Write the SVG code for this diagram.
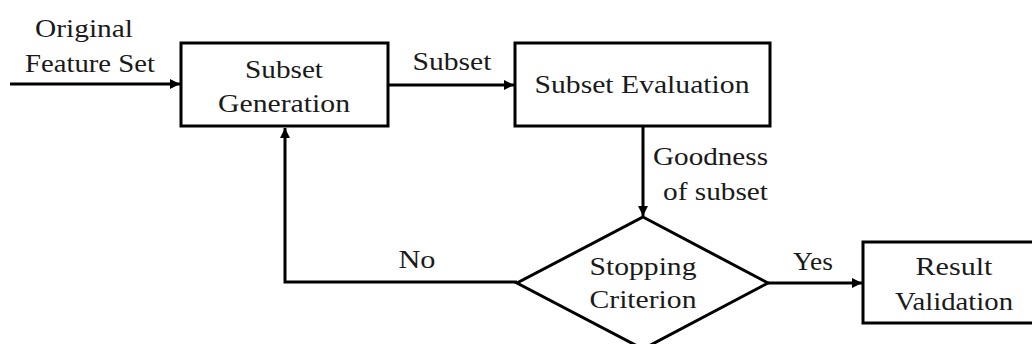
<svg xmlns="http://www.w3.org/2000/svg" width="1032" height="344" viewBox="0 0 1032 344">
  <style>
    .box { fill: #ffffff; stroke: #000000; stroke-width: 3; }
    .line { fill: none; stroke: #000000; stroke-width: 3; }
    .lbl { font-family: 'Liberation Serif', 'DejaVu Serif', serif; font-size: 25px; fill: #1a1a1a; text-anchor: middle; }
    .end { text-anchor: end; }
  </style>
  <defs>
    <marker id="arrow" viewBox="0 0 10 10" refX="10" refY="5" markerWidth="10" markerHeight="10" markerUnits="userSpaceOnUse" orient="auto">
      <path d="M0,0 L10,5 L0,10 Z" fill="#000000"/>
    </marker>
  </defs>

  <rect width="1032" height="344" fill="#ffffff"/>

  <!-- flow lines and their labels -->
  <g id="connectors">
    <line class="line" x1="10" y1="84" x2="180" y2="84" marker-end="url(#arrow)"/>
    <line class="line" x1="388" y1="85" x2="514" y2="85" marker-end="url(#arrow)"/>
    <line class="line" x1="643" y1="126" x2="643" y2="216" marker-end="url(#arrow)"/>
    <line class="line" x1="768" y1="283" x2="862" y2="283" marker-end="url(#arrow)"/>
    <polyline class="line" points="517,282 285,282 285,128" marker-end="url(#arrow)"/>
    <text class="lbl" x="84" y="37" textLength="98" lengthAdjust="spacingAndGlyphs">Original</text>
    <text class="lbl" x="90" y="72" textLength="130" lengthAdjust="spacingAndGlyphs">Feature Set</text>
    <text class="lbl" x="452" y="70" textLength="79" lengthAdjust="spacingAndGlyphs">Subset</text>
    <text class="lbl end" x="768" y="165" textLength="115" lengthAdjust="spacingAndGlyphs">Goodness</text>
    <text class="lbl end" x="768" y="200" textLength="105" lengthAdjust="spacingAndGlyphs">of subset</text>
    <text class="lbl" x="813" y="270" textLength="40" lengthAdjust="spacingAndGlyphs">Yes</text>
    <text class="lbl" x="417" y="268" textLength="37" lengthAdjust="spacingAndGlyphs">No</text>
  </g>

  <g id="subset-generation">
    <rect class="box" x="181" y="43" width="207" height="83"/>
    <text class="lbl" x="284" y="78" textLength="78" lengthAdjust="spacingAndGlyphs">Subset</text>
    <text class="lbl" x="284" y="112" textLength="132" lengthAdjust="spacingAndGlyphs">Generation</text>
  </g>

  <g id="subset-evaluation">
    <rect class="box" x="515" y="43" width="255" height="83"/>
    <text class="lbl" x="642" y="93" textLength="215" lengthAdjust="spacingAndGlyphs">Subset Evaluation</text>
  </g>

  <g id="stopping-criterion">
    <polygon class="box" points="643,217 768,283 643,349 517,283"/>
    <text class="lbl" x="643" y="275" textLength="107" lengthAdjust="spacingAndGlyphs">Stopping</text>
    <text class="lbl" x="643" y="308" textLength="107" lengthAdjust="spacingAndGlyphs">Criterion</text>
  </g>

  <g id="result-validation">
    <rect class="box" x="863" y="242" width="182" height="81"/>
    <text class="lbl" x="954" y="275" textLength="77" lengthAdjust="spacingAndGlyphs">Result</text>
    <text class="lbl" x="954" y="310" textLength="118" lengthAdjust="spacingAndGlyphs">Validation</text>
  </g>
</svg>
